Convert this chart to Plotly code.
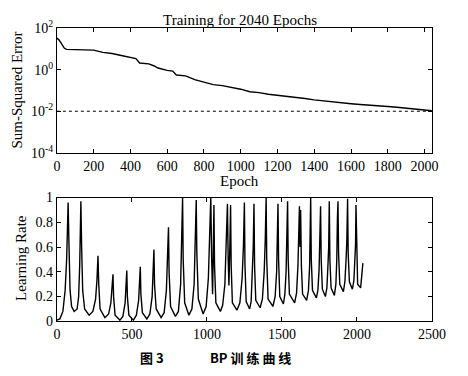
import plotly.graph_objects as go

# ---- data ----
err_epoch = [0, 10, 25, 40, 52, 100, 150, 200, 250, 300, 350, 400, 430, 450, 500, 530, 550, 600, 630,
             650, 700, 750, 800, 850, 900, 950, 1000, 1050, 1100, 1150, 1200, 1250, 1300, 1350, 1400,
             1450, 1500, 1550, 1600, 1650, 1700, 1750, 1800, 1850, 1900, 1950, 2000, 2040]
err_value = [33, 28, 18, 11, 9.5, 9.2, 8.9, 8.7, 6.8, 6.0, 4.8, 3.8, 3.4, 2.1, 1.9, 1.5, 1.2, 0.93, 0.85,
             0.55, 0.5, 0.33, 0.26, 0.19, 0.17, 0.14, 0.115, 0.087, 0.079, 0.066, 0.059, 0.053, 0.048,
             0.041, 0.035, 0.031, 0.028, 0.025, 0.023, 0.021, 0.020, 0.018, 0.017, 0.0155, 0.014,
             0.0128, 0.0115, 0.0105]
goal_epoch = [0, 2040]
goal_value = [0.01, 0.01]

lr_epoch = [0, 20, 40, 55, 65, 75, 80, 88, 98, 115,
            135, 145, 152, 160, 165, 172, 185, 215,
            240, 258, 267, 274, 279, 288, 320,
            345, 360, 368, 374, 378, 388, 420,
            440, 455, 461, 466, 470, 480, 510,
            530, 545, 551, 556, 560, 570, 600,
            620, 635, 642, 647, 651, 662, 695,
            715, 730, 738, 744, 748, 758, 790,
            810, 825, 832, 838, 842, 852, 880,
            900, 915, 922, 929, 933, 943, 975,
            995, 1010, 1018, 1026, 1032, 1038, 1043, 1047, 1051, 1060, 1090,
            1105, 1120, 1130, 1137, 1142, 1147, 1153, 1158, 1162, 1170, 1200,
            1220, 1235, 1244, 1250, 1254, 1262, 1285,
            1295, 1303, 1309, 1314, 1318, 1326, 1355,
            1370, 1382, 1389, 1395, 1399, 1408, 1440,
            1455, 1465, 1470, 1474, 1478, 1486, 1510,
            1520, 1528, 1533, 1538, 1542, 1550, 1585,
            1598, 1607, 1612, 1617, 1621, 1625, 1630, 1638, 1665,
            1677, 1685, 1689, 1692, 1696, 1704, 1730,
            1740, 1748, 1753, 1758, 1762, 1770, 1790,
            1800, 1807, 1812, 1816, 1820, 1828, 1850,
            1860, 1866, 1870, 1874, 1878, 1886, 1910,
            1920, 1928, 1933, 1938, 1942, 1950, 1970,
            1980, 1987, 1991, 1994, 1998, 2005, 2025,
            2030, 2036, 2040]
lr_value = [0.01, 0.02, 0.08, 0.25, 0.5, 0.96, 0.65, 0.25, 0.12, 0.08,
            0.1, 0.2, 0.45, 0.97, 0.6, 0.25, 0.1, 0.05,
            0.08, 0.18, 0.33, 0.53, 0.3, 0.1, 0.03,
            0.06, 0.15, 0.25, 0.38, 0.2, 0.05, 0.01,
            0.04, 0.15, 0.27, 0.41, 0.2, 0.05, 0.01,
            0.05, 0.17, 0.3, 0.44, 0.22, 0.07, 0.02,
            0.06, 0.2, 0.4, 0.58, 0.3, 0.1, 0.03,
            0.07, 0.25, 0.5, 0.76, 0.4, 0.12, 0.04,
            0.08, 0.3, 0.6, 1.0, 0.5, 0.15, 0.05,
            0.1, 0.3, 0.6, 0.98, 0.55, 0.18, 0.06,
            0.12, 0.35, 0.65, 1.0, 0.5, 0.22, 0.6, 0.94, 0.45, 0.15, 0.08,
            0.13, 0.3, 0.62, 0.95, 0.5, 0.29, 0.6, 0.94, 0.45, 0.15, 0.09,
            0.15, 0.35, 0.62, 0.96, 0.45, 0.16, 0.1,
            0.16, 0.35, 0.6, 0.95, 0.45, 0.17, 0.11,
            0.18, 0.4, 0.65, 1.0, 0.5, 0.18, 0.12,
            0.2, 0.4, 0.62, 0.95, 0.5, 0.2, 0.14,
            0.22, 0.4, 0.6, 0.97, 0.5, 0.22, 0.15,
            0.23, 0.45, 0.7, 0.93, 0.6, 0.9, 0.45, 0.22, 0.17,
            0.25, 0.45, 0.65, 1.0, 0.5, 0.25, 0.19,
            0.25, 0.42, 0.6, 0.93, 0.5, 0.26, 0.2,
            0.27, 0.45, 0.6, 0.97, 0.5, 0.27, 0.21,
            0.3, 0.5, 0.82, 0.97, 0.55, 0.3, 0.24,
            0.32, 0.5, 0.65, 0.99, 0.55, 0.32, 0.26,
            0.33, 0.5, 0.62, 0.94, 0.52, 0.3, 0.27,
            0.35, 0.44, 0.47]

err_tickvals = [1e-4, 1e-2, 1, 1e2]
err_ticktext = ["10<sup>-4</sup>", "10<sup>-2</sup>", "10<sup>0</sup>", "10<sup>2</sup>"]
top_xticks = list(range(0, 2001, 200))
bot_xticks = list(range(0, 2501, 500))
bot_yticks = [0, 0.2, 0.4, 0.6, 0.8, 1]
bot_yticktext = ["0", "0.2", "0.4", "0.6", "0.8", "1"]

W, H = 468, 376
SERIF = "Liberation Serif"
fig = go.Figure()

fig.add_trace(go.Scatter(x=err_epoch, y=err_value, mode="lines",
                         line=dict(color="black", width=1.4), xaxis="x", yaxis="y"))
fig.add_trace(go.Scatter(x=goal_epoch, y=goal_value, mode="lines",
                         line=dict(color="black", width=1, dash="3px,3px"), xaxis="x", yaxis="y"))
fig.add_trace(go.Scatter(x=lr_epoch, y=lr_value, mode="lines",
                         line=dict(color="black", width=1.4), xaxis="x2", yaxis="y2"))

def px_x(p):
    return p / W

def px_y(p):
    return 1 - p / H

axis_common = dict(showline=True, linecolor="black", linewidth=1, mirror="ticks",
                   ticks="inside", ticklen=4, tickcolor="black", showgrid=False, zeroline=False,
                   tickfont=dict(family=SERIF, size=14, color="black"))

fig.update_layout(
    width=W, height=H, margin=dict(l=0, r=0, t=0, b=0),
    paper_bgcolor="white", plot_bgcolor="white", showlegend=False,
    xaxis=dict(domain=[px_x(55), px_x(445)], range=[0, 2040], tickvals=top_xticks,
               anchor="y", **axis_common),
    yaxis=dict(domain=[px_y(150), px_y(19)], type="log", range=[-4, 2],
               tickvals=err_tickvals, ticktext=err_ticktext, anchor="x", **axis_common),
    xaxis2=dict(domain=[px_x(55), px_x(445)], range=[0, 2500], tickvals=bot_xticks,
                anchor="y2", **axis_common),
    yaxis2=dict(domain=[px_y(327), px_y(197)], range=[0, 1], tickvals=bot_yticks,
                ticktext=bot_yticktext, anchor="x2", **axis_common),
)

def ann(text, x, y, size=14, angle=0, family=SERIF, bold=False):
    fig.add_annotation(text=("<b>%s</b>" % text) if bold else text,
                       x=px_x(x), y=px_y(y), xref="paper", yref="paper",
                       showarrow=False, textangle=angle, xanchor="center", yanchor="middle",
                       font=dict(family=family, size=size, color="black"))

ann("Training for 2040 Epochs", 245, 11, size=15)
ann("Epoch", 245, 180, size=15)
ann("Sum-Squared Error", 13, 84, size=15, angle=-90)
ann("Learning Rate", 17, 260, size=15, angle=-90)
ann("图 3", 154, 365, size=13, family="Noto Sans CJK SC", bold=True)
ann("BP 训 练 曲 线", 256, 365, size=13, family="Noto Sans CJK SC", bold=True)

fig.write_html("out.html", config={"displayModeBar": False},
               post_script="document.body.style.margin='0';document.body.style.overflow='hidden';")
